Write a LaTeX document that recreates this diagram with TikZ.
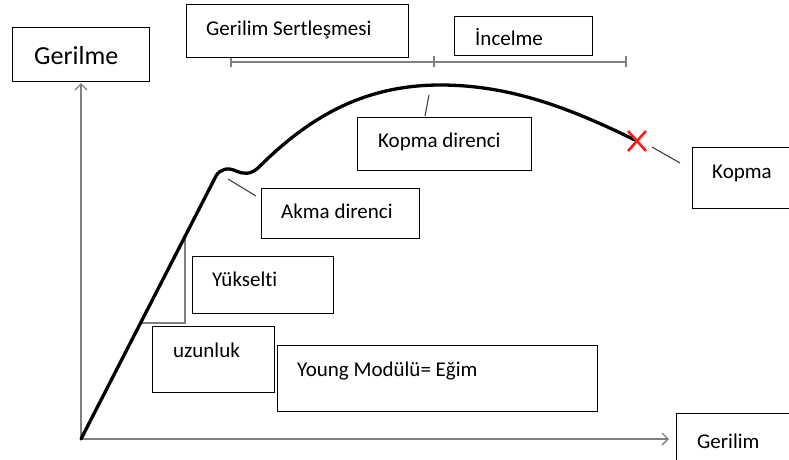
\documentclass[tikz,border=0pt]{standalone}
\usepackage{fontspec}
\setmainfont{Carlito}[Ligatures=NoCommon]
\usetikzlibrary{arrows.meta}
\definecolor{axisgray}{HTML}{7F7F7F}
\definecolor{leadgray}{HTML}{404040}
\definecolor{xred}{HTML}{FF1A1A}
\tikzset{
  box/.style={draw=black, line width=1.1pt, anchor=north west, inner sep=0pt, fill=white},
  lbl/.style={anchor=base west, inner sep=0pt, font=\fontsize{21}{24}\selectfont},
  biglbl/.style={anchor=base west, inner sep=0pt, font=\fontsize{26}{30}\selectfont},
  axis/.style={draw=axisgray, line width=1.3pt},
  bracket/.style={draw=axisgray, line width=1.3pt},
  curve/.style={draw=black, line width=3.3pt, line cap=round, line join=round},
  leader/.style={draw=leadgray, line width=1.1pt},
  trig/.style={draw=axisgray, line width=1.1pt}
}
\begin{document}
\begin{tikzpicture}[x=1pt,y=-1pt]
\useasboundingbox (0,0) rectangle (789,459);
% axes
\coordinate (O) at (81,439);
\coordinate (ytip) at (81,83);
\coordinate (xtip) at (669,439);
\draw[axis, -{Straight Barb[length=6pt,width=12pt,line width=1.3pt]}] (O) -- (ytip);
\draw[axis, -{Straight Barb[length=6pt,width=12pt,line width=1.3pt]}] (O) -- (xtip);
% bracket
\coordinate (b1) at (231,62);
\coordinate (b2) at (434,62);
\coordinate (b3) at (626,62);
\draw[bracket] (b1) -- (b3);
\foreach \p in {b1,b2,b3}{\draw[bracket] ([yshift=-5pt]\p) -- ([yshift=6pt]\p);}
% slope triangle
\coordinate (t1) at (185,239);
\coordinate (t2) at (185,323);
\coordinate (t3) at (142,323);
\draw[trig] (t1) -- (t2) -- (t3);
% curve
\coordinate (hump) at (226,169);
\coordinate (peak) at (440,85);
\coordinate (brk) at (637,141);
\draw[curve] (O) -- (216,176) .. controls (220,169) and (228,167) .. (236,171)
  .. controls (243,174) and (250,175) .. (258,168)
  .. controls (305,121) and (360,85) .. (peak)
  .. controls (510,85) and (570,108) .. (brk);
% red X
\draw[xred, line width=2.6pt] ([shift={(-9,-10)}]brk) -- ([shift={(9,10)}]brk);
\draw[xred, line width=2.6pt] ([shift={(-9,10)}]brk) -- ([shift={(9,-10)}]brk);
% boxes
\node[box, minimum width=137pt, minimum height=54pt] (gerilme) at (12,27) {};
\node[biglbl] (tgerilme) at (34,64) {Gerilme};
\node[box, minimum width=222pt, minimum height=53pt] (sert) at (186,4) {};
\node[lbl] (tsert) at (206,35) {Gerilim Sertleşmesi};
\node[box, minimum width=138pt, minimum height=39pt] (incel) at (454,16) {};
\node[lbl] (tincel) at (475,45) {İncelme};
\node[box, minimum width=174pt, minimum height=53pt] (kdir) at (357,117) {};
\node[lbl] (tkdir) at (378,147) {Kopma direnci};
\node[box, minimum width=110pt, minimum height=61pt] (kopma) at (692,147) {};
\node[lbl] (tkopma) at (712,178) {Kopma};
\node[box, minimum width=158pt, minimum height=50pt] (akma) at (261,188) {};
\node[lbl] (takma) at (281,218) {Akma direnci};
\node[box, minimum width=141pt, minimum height=57pt] (yuk) at (192,256) {};
\node[lbl] (tyuk) at (212,286) {Yükselti};
\node[box, minimum width=122pt, minimum height=66pt] (uzun) at (152,326) {};
\node[lbl] (tuzun) at (173,357) {uzunluk};
\node[box, minimum width=320pt, minimum height=66pt] (young) at (277,345) {};
\node[lbl] (tyoung) at (297,376) {Young Modülü= Eğim};
\node[box, minimum width=120pt, minimum height=60pt] (geril) at (676,413) {};
\node[lbl] (tgeril) at (697,448) {Gerilim};
% leaders
\coordinate (l1a) at (429,95);
\coordinate (l1b) at (425,116);
\draw[leader] (l1a) -- (l1b);
\coordinate (l2a) at (228,179);
\coordinate (l2b) at (256,196);
\draw[leader] (l2a) -- (l2b);
\coordinate (l3a) at (652,147);
\coordinate (l3b) at (680,163);
\draw[leader] (l3a) -- (l3b);
\end{tikzpicture}
\end{document}
